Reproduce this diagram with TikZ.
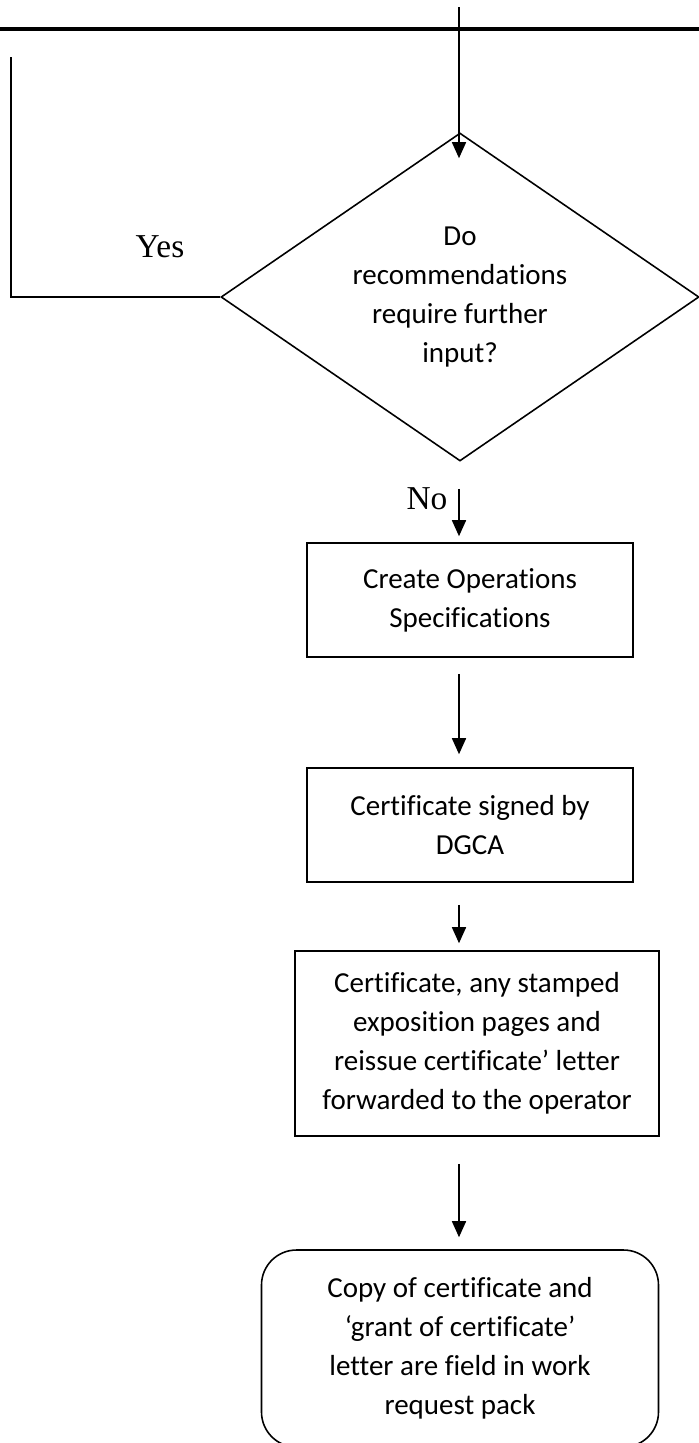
\documentclass[tikz,border=0pt]{standalone}
\usepackage{fontspec}
\setmainfont{Carlito}[Ligatures={TeX,NoCommon}]
\newfontfamily\labelfont{Liberation Serif}
\usepackage{tikz}
\usetikzlibrary{shapes.geometric, arrows.meta, positioning, calc}

\newcommand{\boxfont}{\fontsize{16.5}{22.2}\selectfont}

\begin{document}
\begin{tikzpicture}[
    process/.style={draw, line width=0.9pt, align=center, font=\boxfont, inner sep=0pt},
    decision/.style={draw, diamond, aspect=1.46, line width=0.9pt, align=center, font=\boxfont, inner sep=0pt, minimum width=9.56cm, minimum height=6.56cm},
    answer/.style={font=\labelfont\fontsize{19}{22}\selectfont},
    flow/.style={-{Triangle[length=0.32cm, width=0.28cm]}, line width=0.9pt}
]

\useasboundingbox (0,0) rectangle (13.98,-28.86);

% Linea superior e entrada
\draw[line width=1.8pt] (0,-0.58) -- (13.98,-0.58);
\coordinate (axis) at (9.18, 0);
\coordinate (entry) at (9.18, -0.14);

% Decisao
\node[decision] (dec) at (9.2, -5.94) {Do\\recommendations\\require further\\input?};
\draw[flow] (entry) -- ([yshift=-0.52cm]dec.north -| axis);

% Ramo Yes (volta para cima)
\coordinate (back) at (0.22, -1.14);
\draw[line width=0.9pt] (dec.west) -| (back);
\node[answer] (yes) at (3.2, -4.94) {Yes};

% Passos do processo
\node[process, minimum width=6.52cm, minimum height=2.28cm] (ops) at (9.4, -12.0) {Create Operations\\Specifications};
\node[process, minimum width=6.52cm, minimum height=2.28cm] (sign) at (9.4, -16.5) {Certificate signed by\\DGCA};
\node[process, minimum width=7.28cm, minimum height=3.7cm] (fwd) at (9.54, -20.87) {Certificate, any stamped\\exposition pages and\\reissue certificate' letter\\forwarded to the operator};
\node[process, rounded corners=0.7cm, minimum width=7.94cm, minimum height=3.94cm] (file) at (9.2, -26.97) {Copy of certificate and\\`grant of certificate'\\letter are field in work\\request pack};

% Ramo No
\node[answer] (no) at (8.54, -9.98) {No};
\draw[flow, shorten <=0.54cm, shorten >=0.12cm] (dec.south -| axis) -- (ops.north -| axis);

% Ligacoes entre passos
\draw[flow, shorten <=0.32cm, shorten >=0.26cm] (ops.south -| axis) -- (sign.north -| axis);
\draw[flow, shorten <=0.44cm, shorten >=0.14cm] (sign.south -| axis) -- (fwd.north -| axis);
\draw[flow, shorten <=0.54cm, shorten >=0.24cm] (fwd.south -| axis) -- (file.north -| axis);

\end{tikzpicture}
\end{document}
